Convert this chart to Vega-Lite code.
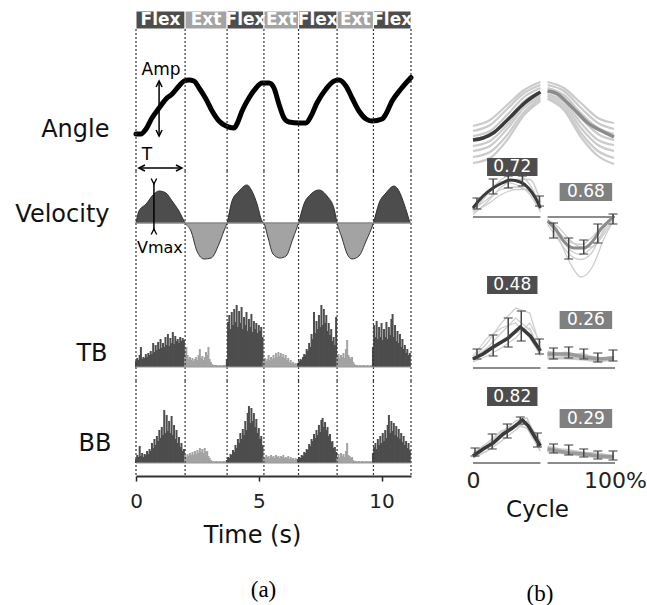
{
"$schema":"https://vega.github.io/schema/vega-lite/v6.json",
"background":"white",
"padding":{"left":14,"top":10,"right":2,"bottom":2},
"config":{"view":{"stroke":null},"font":"DejaVu Sans","axis":{"grid":false},"text":{"font":"DejaVu Sans"}},
"datasets":{
"phases":[{"phase":"Flex","t0":0,"t1":2.0},{"phase":"Ext","t0":2.0,"t1":3.71},{"phase":"Flex","t0":3.71,"t1":5.21},{"phase":"Ext","t0":5.21,"t1":6.62},{"phase":"Flex","t0":6.62,"t1":8.19},{"phase":"Ext","t0":8.19,"t1":9.67},{"phase":"Flex","t0":9.67,"t1":11.2}],
"bounds":[{"t":0},{"t":2.0},{"t":3.71},{"t":5.21},{"t":6.62},{"t":8.19},{"t":9.67},{"t":11.2}],
"angle":[{"t":0,"deg":20},{"t":0.2,"deg":20},{"t":0.41,"deg":30},{"t":0.65,"deg":52},{"t":0.94,"deg":72},{"t":1.22,"deg":90},{"t":1.47,"deg":100},{"t":1.75,"deg":116},{"t":1.96,"deg":126},{"t":2.16,"deg":128},{"t":2.36,"deg":126},{"t":2.57,"deg":112},{"t":2.85,"deg":90},{"t":3.1,"deg":66},{"t":3.38,"deg":46},{"t":3.67,"deg":36},{"t":3.99,"deg":32},{"t":4.11,"deg":40},{"t":4.32,"deg":66},{"t":4.6,"deg":92},{"t":4.89,"deg":112},{"t":5.13,"deg":122},{"t":5.42,"deg":122},{"t":5.62,"deg":112},{"t":5.82,"deg":80},{"t":6.03,"deg":52},{"t":6.23,"deg":44},{"t":6.64,"deg":42},{"t":6.92,"deg":42},{"t":7.13,"deg":56},{"t":7.37,"deg":82},{"t":7.74,"deg":110},{"t":8.07,"deg":126},{"t":8.27,"deg":128},{"t":8.55,"deg":116},{"t":8.8,"deg":92},{"t":9.08,"deg":66},{"t":9.37,"deg":50},{"t":9.61,"deg":46},{"t":10.02,"deg":50},{"t":10.18,"deg":60},{"t":10.43,"deg":86},{"t":10.79,"deg":110},{"t":11.2,"deg":133}],
"vel":[
{"t":0,"v":0,"lobe":1,"ph":"Flex"},{"t":0.12,"v":48,"lobe":1,"ph":"Flex"},{"t":0.41,"v":76,"lobe":1,"ph":"Flex"},{"t":0.73,"v":116,"lobe":1,"ph":"Flex"},{"t":0.94,"v":128,"lobe":1,"ph":"Flex"},{"t":1.22,"v":120,"lobe":1,"ph":"Flex"},{"t":1.47,"v":88,"lobe":1,"ph":"Flex"},{"t":1.75,"v":48,"lobe":1,"ph":"Flex"},{"t":2.0,"v":0,"lobe":1,"ph":"Flex"},
{"t":2.0,"v":0,"lobe":2,"ph":"Ext"},{"t":2.24,"v":-32,"lobe":2,"ph":"Ext"},{"t":2.48,"v":-112,"lobe":2,"ph":"Ext"},{"t":2.77,"v":-144,"lobe":2,"ph":"Ext"},{"t":3.06,"v":-140,"lobe":2,"ph":"Ext"},{"t":3.38,"v":-84,"lobe":2,"ph":"Ext"},{"t":3.58,"v":-32,"lobe":2,"ph":"Ext"},{"t":3.71,"v":0,"lobe":2,"ph":"Ext"},
{"t":3.71,"v":0,"lobe":3,"ph":"Flex"},{"t":3.91,"v":88,"lobe":3,"ph":"Flex"},{"t":4.2,"v":128,"lobe":3,"ph":"Flex"},{"t":4.52,"v":152,"lobe":3,"ph":"Flex"},{"t":4.72,"v":128,"lobe":3,"ph":"Flex"},{"t":4.93,"v":76,"lobe":3,"ph":"Flex"},{"t":5.13,"v":8,"lobe":3,"ph":"Flex"},{"t":5.21,"v":0,"lobe":3,"ph":"Flex"},
{"t":5.21,"v":0,"lobe":4,"ph":"Ext"},{"t":5.38,"v":-60,"lobe":4,"ph":"Ext"},{"t":5.58,"v":-124,"lobe":4,"ph":"Ext"},{"t":5.87,"v":-140,"lobe":4,"ph":"Ext"},{"t":6.11,"v":-132,"lobe":4,"ph":"Ext"},{"t":6.4,"v":-60,"lobe":4,"ph":"Ext"},{"t":6.62,"v":0,"lobe":4,"ph":"Ext"},
{"t":6.62,"v":0,"lobe":5,"ph":"Flex"},{"t":6.84,"v":76,"lobe":5,"ph":"Flex"},{"t":7.13,"v":116,"lobe":5,"ph":"Flex"},{"t":7.45,"v":132,"lobe":5,"ph":"Flex"},{"t":7.78,"v":108,"lobe":5,"ph":"Flex"},{"t":8.07,"v":56,"lobe":5,"ph":"Flex"},{"t":8.19,"v":0,"lobe":5,"ph":"Flex"},
{"t":8.19,"v":0,"lobe":6,"ph":"Ext"},{"t":8.39,"v":-60,"lobe":6,"ph":"Ext"},{"t":8.6,"v":-124,"lobe":6,"ph":"Ext"},{"t":8.8,"v":-144,"lobe":6,"ph":"Ext"},{"t":9.08,"v":-132,"lobe":6,"ph":"Ext"},{"t":9.37,"v":-72,"lobe":6,"ph":"Ext"},{"t":9.67,"v":0,"lobe":6,"ph":"Ext"},
{"t":9.67,"v":0,"lobe":7,"ph":"Flex"},{"t":9.9,"v":80,"lobe":7,"ph":"Flex"},{"t":10.18,"v":120,"lobe":7,"ph":"Flex"},{"t":10.51,"v":148,"lobe":7,"ph":"Flex"},{"t":10.71,"v":128,"lobe":7,"ph":"Flex"},{"t":10.92,"v":76,"lobe":7,"ph":"Flex"},{"t":11.16,"v":0,"lobe":7,"ph":"Flex"}],
"emg":[
{"t":0,"tb":0.06,"bb":0.04,"ph":"Flex"},{"t":0.05,"tb":0.09,"bb":0.08,"ph":"Flex"},{"t":0.1,"tb":0.07,"bb":0.06,"ph":"Flex"},{"t":0.15,"tb":0.12,"bb":0.17,"ph":"Flex"},{"t":0.2,"tb":0.2,"bb":0.07,"ph":"Flex"},{"t":0.25,"tb":0.08,"bb":0.1,"ph":"Flex"},{"t":0.3,"tb":0.1,"bb":0.06,"ph":"Flex"},{"t":0.35,"tb":0.09,"bb":0.09,"ph":"Flex"},{"t":0.4,"tb":0.13,"bb":0.08,"ph":"Flex"},{"t":0.45,"tb":0.1,"bb":0.12,"ph":"Flex"},{"t":0.5,"tb":0.14,"bb":0.09,"ph":"Flex"},{"t":0.55,"tb":0.12,"bb":0.14,"ph":"Flex"},{"t":0.6,"tb":0.16,"bb":0.12,"ph":"Flex"},{"t":0.65,"tb":0.13,"bb":0.2,"ph":"Flex"},{"t":0.7,"tb":0.24,"bb":0.15,"ph":"Flex"},{"t":0.75,"tb":0.15,"bb":0.24,"ph":"Flex"},{"t":0.8,"tb":0.22,"bb":0.18,"ph":"Flex"},{"t":0.85,"tb":0.17,"bb":0.27,"ph":"Flex"},{"t":0.9,"tb":0.25,"bb":0.22,"ph":"Flex"},{"t":0.95,"tb":0.18,"bb":0.33,"ph":"Flex"},{"t":1,"tb":0.28,"bb":0.25,"ph":"Flex"},{"t":1.05,"tb":0.19,"bb":0.36,"ph":"Flex"},{"t":1.1,"tb":0.24,"bb":0.28,"ph":"Flex"},{"t":1.15,"tb":0.2,"bb":0.53,"ph":"Flex"},{"t":1.2,"tb":0.3,"bb":0.3,"ph":"Flex"},{"t":1.25,"tb":0.22,"bb":0.48,"ph":"Flex"},{"t":1.3,"tb":0.33,"bb":0.32,"ph":"Flex"},{"t":1.35,"tb":0.21,"bb":0.42,"ph":"Flex"},{"t":1.4,"tb":0.29,"bb":0.3,"ph":"Flex"},{"t":1.45,"tb":0.24,"bb":0.47,"ph":"Flex"},{"t":1.5,"tb":0.35,"bb":0.28,"ph":"Flex"},{"t":1.55,"tb":0.23,"bb":0.38,"ph":"Flex"},{"t":1.6,"tb":0.31,"bb":0.24,"ph":"Flex"},{"t":1.65,"tb":0.26,"bb":0.33,"ph":"Flex"},{"t":1.7,"tb":0.28,"bb":0.2,"ph":"Flex"},{"t":1.75,"tb":0.24,"bb":0.26,"ph":"Flex"},{"t":1.8,"tb":0.3,"bb":0.16,"ph":"Flex"},{"t":1.85,"tb":0.26,"bb":0.2,"ph":"Flex"},{"t":1.9,"tb":0.29,"bb":0.12,"ph":"Flex"},{"t":1.95,"tb":0.27,"bb":0.14,"ph":"Flex"},
{"t":2,"tb":0.1,"bb":0.08,"ph":"Ext"},{"t":2.05,"tb":0.2,"bb":0.06,"ph":"Ext"},{"t":2.1,"tb":0.12,"bb":0.09,"ph":"Ext"},{"t":2.15,"tb":0.08,"bb":0.07,"ph":"Ext"},{"t":2.2,"tb":0.1,"bb":0.1,"ph":"Ext"},{"t":2.25,"tb":0.07,"bb":0.08,"ph":"Ext"},{"t":2.3,"tb":0.09,"bb":0.11,"ph":"Ext"},{"t":2.35,"tb":0.06,"bb":0.08,"ph":"Ext"},{"t":2.4,"tb":0.08,"bb":0.12,"ph":"Ext"},{"t":2.45,"tb":0.1,"bb":0.09,"ph":"Ext"},{"t":2.5,"tb":0.07,"bb":0.13,"ph":"Ext"},{"t":2.55,"tb":0.12,"bb":0.1,"ph":"Ext"},{"t":2.6,"tb":0.18,"bb":0.15,"ph":"Ext"},{"t":2.65,"tb":0.09,"bb":0.11,"ph":"Ext"},{"t":2.7,"tb":0.11,"bb":0.14,"ph":"Ext"},{"t":2.75,"tb":0.07,"bb":0.1,"ph":"Ext"},{"t":2.8,"tb":0.1,"bb":0.15,"ph":"Ext"},{"t":2.85,"tb":0.15,"bb":0.11,"ph":"Ext"},{"t":2.9,"tb":0.12,"bb":0.12,"ph":"Ext"},{"t":2.95,"tb":0.2,"bb":0.07,"ph":"Ext"},{"t":3,"tb":0.08,"bb":0.05,"ph":"Ext"},{"t":3.05,"tb":0.05,"bb":0.03,"ph":"Ext"},{"t":3.1,"tb":0.03,"bb":0.02,"ph":"Ext"},{"t":3.15,"tb":0.02,"bb":0.02,"ph":"Ext"},{"t":3.2,"tb":0.02,"bb":0.01,"ph":"Ext"},{"t":3.25,"tb":0.02,"bb":0.02,"ph":"Ext"},{"t":3.3,"tb":0.02,"bb":0.02,"ph":"Ext"},{"t":3.35,"tb":0.01,"bb":0.01,"ph":"Ext"},{"t":3.4,"tb":0.02,"bb":0.02,"ph":"Ext"},{"t":3.45,"tb":0.02,"bb":0.02,"ph":"Ext"},{"t":3.5,"tb":0.01,"bb":0.01,"ph":"Ext"},{"t":3.55,"tb":0.02,"bb":0.02,"ph":"Ext"},{"t":3.6,"tb":0.02,"bb":0.02,"ph":"Ext"},{"t":3.65,"tb":0.02,"bb":0.01,"ph":"Ext"},
{"t":3.7,"tb":0.08,"bb":0.03,"ph":"Flex"},{"t":3.75,"tb":0.45,"bb":0.06,"ph":"Flex"},{"t":3.8,"tb":0.52,"bb":0.05,"ph":"Flex"},{"t":3.85,"tb":0.38,"bb":0.09,"ph":"Flex"},{"t":3.9,"tb":0.55,"bb":0.08,"ph":"Flex"},{"t":3.95,"tb":0.42,"bb":0.13,"ph":"Flex"},{"t":4,"tb":0.58,"bb":0.11,"ph":"Flex"},{"t":4.05,"tb":0.45,"bb":0.18,"ph":"Flex"},{"t":4.1,"tb":0.62,"bb":0.15,"ph":"Flex"},{"t":4.15,"tb":0.4,"bb":0.24,"ph":"Flex"},{"t":4.2,"tb":0.56,"bb":0.2,"ph":"Flex"},{"t":4.25,"tb":0.44,"bb":0.3,"ph":"Flex"},{"t":4.3,"tb":0.6,"bb":0.24,"ph":"Flex"},{"t":4.35,"tb":0.38,"bb":0.34,"ph":"Flex"},{"t":4.4,"tb":0.5,"bb":0.28,"ph":"Flex"},{"t":4.45,"tb":0.42,"bb":0.42,"ph":"Flex"},{"t":4.5,"tb":0.55,"bb":0.33,"ph":"Flex"},{"t":4.55,"tb":0.36,"bb":0.5,"ph":"Flex"},{"t":4.6,"tb":0.48,"bb":0.57,"ph":"Flex"},{"t":4.65,"tb":0.4,"bb":0.4,"ph":"Flex"},{"t":4.7,"tb":0.53,"bb":0.55,"ph":"Flex"},{"t":4.75,"tb":0.35,"bb":0.42,"ph":"Flex"},{"t":4.8,"tb":0.46,"bb":0.5,"ph":"Flex"},{"t":4.85,"tb":0.38,"bb":0.36,"ph":"Flex"},{"t":4.9,"tb":0.44,"bb":0.44,"ph":"Flex"},{"t":4.95,"tb":0.34,"bb":0.3,"ph":"Flex"},{"t":5,"tb":0.42,"bb":0.35,"ph":"Flex"},{"t":5.05,"tb":0.36,"bb":0.24,"ph":"Flex"},{"t":5.1,"tb":0.4,"bb":0.27,"ph":"Flex"},{"t":5.15,"tb":0.3,"bb":0.18,"ph":"Flex"},
{"t":5.2,"tb":0.06,"bb":0.06,"ph":"Ext"},{"t":5.25,"tb":0.09,"bb":0.05,"ph":"Ext"},{"t":5.3,"tb":0.06,"bb":0.08,"ph":"Ext"},{"t":5.35,"tb":0.08,"bb":0.06,"ph":"Ext"},{"t":5.4,"tb":0.12,"bb":0.07,"ph":"Ext"},{"t":5.45,"tb":0.07,"bb":0.05,"ph":"Ext"},{"t":5.5,"tb":0.1,"bb":0.08,"ph":"Ext"},{"t":5.55,"tb":0.08,"bb":0.06,"ph":"Ext"},{"t":5.6,"tb":0.12,"bb":0.07,"ph":"Ext"},{"t":5.65,"tb":0.09,"bb":0.05,"ph":"Ext"},{"t":5.7,"tb":0.14,"bb":0.08,"ph":"Ext"},{"t":5.75,"tb":0.1,"bb":0.06,"ph":"Ext"},{"t":5.8,"tb":0.15,"bb":0.07,"ph":"Ext"},{"t":5.85,"tb":0.11,"bb":0.05,"ph":"Ext"},{"t":5.9,"tb":0.14,"bb":0.07,"ph":"Ext"},{"t":5.95,"tb":0.1,"bb":0.06,"ph":"Ext"},{"t":6,"tb":0.13,"bb":0.08,"ph":"Ext"},{"t":6.05,"tb":0.09,"bb":0.05,"ph":"Ext"},{"t":6.1,"tb":0.12,"bb":0.06,"ph":"Ext"},{"t":6.15,"tb":0.07,"bb":0.05,"ph":"Ext"},{"t":6.2,"tb":0.09,"bb":0.07,"ph":"Ext"},{"t":6.25,"tb":0.05,"bb":0.04,"ph":"Ext"},{"t":6.3,"tb":0.07,"bb":0.06,"ph":"Ext"},{"t":6.35,"tb":0.04,"bb":0.04,"ph":"Ext"},{"t":6.4,"tb":0.05,"bb":0.05,"ph":"Ext"},{"t":6.45,"tb":0.03,"bb":0.03,"ph":"Ext"},{"t":6.5,"tb":0.04,"bb":0.05,"ph":"Ext"},{"t":6.55,"tb":0.03,"bb":0.04,"ph":"Ext"},
{"t":6.6,"tb":0.04,"bb":0.04,"ph":"Flex"},{"t":6.65,"tb":0.06,"bb":0.06,"ph":"Flex"},{"t":6.7,"tb":0.08,"bb":0.05,"ph":"Flex"},{"t":6.75,"tb":0.07,"bb":0.08,"ph":"Flex"},{"t":6.8,"tb":0.1,"bb":0.07,"ph":"Flex"},{"t":6.85,"tb":0.13,"bb":0.11,"ph":"Flex"},{"t":6.9,"tb":0.12,"bb":0.1,"ph":"Flex"},{"t":6.95,"tb":0.18,"bb":0.14,"ph":"Flex"},{"t":7,"tb":0.16,"bb":0.13,"ph":"Flex"},{"t":7.05,"tb":0.24,"bb":0.19,"ph":"Flex"},{"t":7.1,"tb":0.2,"bb":0.17,"ph":"Flex"},{"t":7.15,"tb":0.33,"bb":0.24,"ph":"Flex"},{"t":7.2,"tb":0.28,"bb":0.22,"ph":"Flex"},{"t":7.25,"tb":0.55,"bb":0.29,"ph":"Flex"},{"t":7.3,"tb":0.34,"bb":0.25,"ph":"Flex"},{"t":7.35,"tb":0.46,"bb":0.33,"ph":"Flex"},{"t":7.4,"tb":0.38,"bb":0.28,"ph":"Flex"},{"t":7.45,"tb":0.52,"bb":0.38,"ph":"Flex"},{"t":7.5,"tb":0.4,"bb":0.31,"ph":"Flex"},{"t":7.55,"tb":0.62,"bb":0.43,"ph":"Flex"},{"t":7.6,"tb":0.42,"bb":0.45,"ph":"Flex"},{"t":7.65,"tb":0.58,"bb":0.36,"ph":"Flex"},{"t":7.7,"tb":0.44,"bb":0.41,"ph":"Flex"},{"t":7.75,"tb":0.52,"bb":0.33,"ph":"Flex"},{"t":7.8,"tb":0.36,"bb":0.36,"ph":"Flex"},{"t":7.85,"tb":0.44,"bb":0.27,"ph":"Flex"},{"t":7.9,"tb":0.32,"bb":0.29,"ph":"Flex"},{"t":7.95,"tb":0.38,"bb":0.21,"ph":"Flex"},{"t":8,"tb":0.26,"bb":0.22,"ph":"Flex"},{"t":8.05,"tb":0.3,"bb":0.15,"ph":"Flex"},{"t":8.1,"tb":0.22,"bb":0.16,"ph":"Flex"},{"t":8.15,"tb":0.5,"bb":0.11,"ph":"Flex"},
{"t":8.2,"tb":0.1,"bb":0.06,"ph":"Ext"},{"t":8.25,"tb":0.13,"bb":0.09,"ph":"Ext"},{"t":8.3,"tb":0.09,"bb":0.06,"ph":"Ext"},{"t":8.35,"tb":0.12,"bb":0.1,"ph":"Ext"},{"t":8.4,"tb":0.1,"bb":0.07,"ph":"Ext"},{"t":8.45,"tb":0.14,"bb":0.09,"ph":"Ext"},{"t":8.5,"tb":0.09,"bb":0.06,"ph":"Ext"},{"t":8.55,"tb":0.18,"bb":0.12,"ph":"Ext"},{"t":8.6,"tb":0.27,"bb":0.2,"ph":"Ext"},{"t":8.65,"tb":0.12,"bb":0.08,"ph":"Ext"},{"t":8.7,"tb":0.1,"bb":0.07,"ph":"Ext"},{"t":8.75,"tb":0.08,"bb":0.05,"ph":"Ext"},{"t":8.8,"tb":0.1,"bb":0.06,"ph":"Ext"},{"t":8.85,"tb":0.05,"bb":0.03,"ph":"Ext"},{"t":8.9,"tb":0.03,"bb":0.02,"ph":"Ext"},{"t":8.95,"tb":0.02,"bb":0.02,"ph":"Ext"},{"t":9,"tb":0.02,"bb":0.01,"ph":"Ext"},{"t":9.05,"tb":0.01,"bb":0.02,"ph":"Ext"},{"t":9.1,"tb":0.02,"bb":0.02,"ph":"Ext"},{"t":9.15,"tb":0.02,"bb":0.01,"ph":"Ext"},{"t":9.2,"tb":0.01,"bb":0.02,"ph":"Ext"},{"t":9.25,"tb":0.02,"bb":0.02,"ph":"Ext"},{"t":9.3,"tb":0.02,"bb":0.01,"ph":"Ext"},{"t":9.35,"tb":0.01,"bb":0.02,"ph":"Ext"},{"t":9.4,"tb":0.02,"bb":0.02,"ph":"Ext"},{"t":9.45,"tb":0.02,"bb":0.01,"ph":"Ext"},{"t":9.5,"tb":0.01,"bb":0.02,"ph":"Ext"},{"t":9.55,"tb":0.02,"bb":0.02,"ph":"Ext"},{"t":9.6,"tb":0.02,"bb":0.01,"ph":"Ext"},
{"t":9.65,"tb":0.2,"bb":0.1,"ph":"Flex"},{"t":9.7,"tb":0.42,"bb":0.16,"ph":"Flex"},{"t":9.75,"tb":0.3,"bb":0.2,"ph":"Flex"},{"t":9.8,"tb":0.46,"bb":0.14,"ph":"Flex"},{"t":9.85,"tb":0.28,"bb":0.24,"ph":"Flex"},{"t":9.9,"tb":0.4,"bb":0.18,"ph":"Flex"},{"t":9.95,"tb":0.3,"bb":0.27,"ph":"Flex"},{"t":10,"tb":0.44,"bb":0.2,"ph":"Flex"},{"t":10.05,"tb":0.27,"bb":0.3,"ph":"Flex"},{"t":10.1,"tb":0.38,"bb":0.22,"ph":"Flex"},{"t":10.15,"tb":0.3,"bb":0.33,"ph":"Flex"},{"t":10.2,"tb":0.45,"bb":0.25,"ph":"Flex"},{"t":10.25,"tb":0.28,"bb":0.38,"ph":"Flex"},{"t":10.3,"tb":0.4,"bb":0.48,"ph":"Flex"},{"t":10.35,"tb":0.32,"bb":0.3,"ph":"Flex"},{"t":10.4,"tb":0.48,"bb":0.42,"ph":"Flex"},{"t":10.45,"tb":0.53,"bb":0.32,"ph":"Flex"},{"t":10.5,"tb":0.3,"bb":0.4,"ph":"Flex"},{"t":10.55,"tb":0.42,"bb":0.28,"ph":"Flex"},{"t":10.6,"tb":0.26,"bb":0.37,"ph":"Flex"},{"t":10.65,"tb":0.36,"bb":0.26,"ph":"Flex"},{"t":10.7,"tb":0.24,"bb":0.34,"ph":"Flex"},{"t":10.75,"tb":0.33,"bb":0.24,"ph":"Flex"},{"t":10.8,"tb":0.2,"bb":0.3,"ph":"Flex"},{"t":10.85,"tb":0.28,"bb":0.21,"ph":"Flex"},{"t":10.9,"tb":0.18,"bb":0.27,"ph":"Flex"},{"t":10.95,"tb":0.22,"bb":0.18,"ph":"Flex"},{"t":11,"tb":0.14,"bb":0.22,"ph":"Flex"},{"t":11.05,"tb":0.18,"bb":0.15,"ph":"Flex"},{"t":11.1,"tb":0.12,"bb":0.2,"ph":"Flex"},{"t":11.15,"tb":0.14,"bb":0.13,"ph":"Flex"}],
"bcurves":[
{"row":"ang","side":"L","id":"m","x":0,"v":22},{"row":"ang","side":"L","id":"m","x":7.1,"v":26},{"row":"ang","side":"L","id":"m","x":14.2,"v":36},{"row":"ang","side":"L","id":"m","x":21.3,"v":54},{"row":"ang","side":"L","id":"m","x":28.4,"v":74},{"row":"ang","side":"L","id":"m","x":35.5,"v":94},{"row":"ang","side":"L","id":"m","x":41.8,"v":108},{"row":"ang","side":"L","id":"m","x":47.5,"v":118},
{"row":"ang","side":"R","id":"m","x":52.5,"v":120},{"row":"ang","side":"R","id":"m","x":59.6,"v":114},{"row":"ang","side":"R","id":"m","x":66.7,"v":96},{"row":"ang","side":"R","id":"m","x":73.8,"v":76},{"row":"ang","side":"R","id":"m","x":80.9,"v":56},{"row":"ang","side":"R","id":"m","x":87.9,"v":44},{"row":"ang","side":"R","id":"m","x":95,"v":34},{"row":"ang","side":"R","id":"m","x":99.3,"v":28},
{"row":"ang","side":"L","id":"1","x":0,"v":50},{"row":"ang","side":"L","id":"1","x":12,"v":62},{"row":"ang","side":"L","id":"1","x":24,"v":92},{"row":"ang","side":"L","id":"1","x":36,"v":122},{"row":"ang","side":"L","id":"1","x":47.5,"v":138},
{"row":"ang","side":"L","id":"2","x":0,"v":40},{"row":"ang","side":"L","id":"2","x":12,"v":52},{"row":"ang","side":"L","id":"2","x":24,"v":84},{"row":"ang","side":"L","id":"2","x":36,"v":116},{"row":"ang","side":"L","id":"2","x":47.5,"v":132},
{"row":"ang","side":"L","id":"3","x":0,"v":30},{"row":"ang","side":"L","id":"3","x":12,"v":40},{"row":"ang","side":"L","id":"3","x":24,"v":72},{"row":"ang","side":"L","id":"3","x":36,"v":108},{"row":"ang","side":"L","id":"3","x":47.5,"v":126},
{"row":"ang","side":"L","id":"4","x":0,"v":24},{"row":"ang","side":"L","id":"4","x":12,"v":32},{"row":"ang","side":"L","id":"4","x":24,"v":62},{"row":"ang","side":"L","id":"4","x":36,"v":100},{"row":"ang","side":"L","id":"4","x":47.5,"v":118},
{"row":"ang","side":"L","id":"5","x":0,"v":10},{"row":"ang","side":"L","id":"5","x":12,"v":20},{"row":"ang","side":"L","id":"5","x":24,"v":52},{"row":"ang","side":"L","id":"5","x":36,"v":92},{"row":"ang","side":"L","id":"5","x":47.5,"v":112},
{"row":"ang","side":"L","id":"6","x":0,"v":0},{"row":"ang","side":"L","id":"6","x":12,"v":10},{"row":"ang","side":"L","id":"6","x":24,"v":44},{"row":"ang","side":"L","id":"6","x":36,"v":86},{"row":"ang","side":"L","id":"6","x":47.5,"v":108},
{"row":"ang","side":"L","id":"7","x":0,"v":-12},{"row":"ang","side":"L","id":"7","x":12,"v":-2},{"row":"ang","side":"L","id":"7","x":24,"v":32},{"row":"ang","side":"L","id":"7","x":36,"v":78},{"row":"ang","side":"L","id":"7","x":47.5,"v":104},
{"row":"ang","side":"L","id":"8","x":0,"v":-24},{"row":"ang","side":"L","id":"8","x":12,"v":-14},{"row":"ang","side":"L","id":"8","x":24,"v":22},{"row":"ang","side":"L","id":"8","x":36,"v":72},{"row":"ang","side":"L","id":"8","x":47.5,"v":100},
{"row":"ang","side":"R","id":"1","x":52.5,"v":138},{"row":"ang","side":"R","id":"1","x":64,"v":126},{"row":"ang","side":"R","id":"1","x":76,"v":96},{"row":"ang","side":"R","id":"1","x":88,"v":66},{"row":"ang","side":"R","id":"1","x":99.3,"v":56},
{"row":"ang","side":"R","id":"2","x":52.5,"v":132},{"row":"ang","side":"R","id":"2","x":64,"v":120},{"row":"ang","side":"R","id":"2","x":76,"v":86},{"row":"ang","side":"R","id":"2","x":88,"v":56},{"row":"ang","side":"R","id":"2","x":99.3,"v":44},
{"row":"ang","side":"R","id":"3","x":52.5,"v":126},{"row":"ang","side":"R","id":"3","x":64,"v":112},{"row":"ang","side":"R","id":"3","x":76,"v":76},{"row":"ang","side":"R","id":"3","x":88,"v":46},{"row":"ang","side":"R","id":"3","x":99.3,"v":34},
{"row":"ang","side":"R","id":"4","x":52.5,"v":120},{"row":"ang","side":"R","id":"4","x":64,"v":104},{"row":"ang","side":"R","id":"4","x":76,"v":66},{"row":"ang","side":"R","id":"4","x":88,"v":34},{"row":"ang","side":"R","id":"4","x":99.3,"v":22},
{"row":"ang","side":"R","id":"5","x":52.5,"v":114},{"row":"ang","side":"R","id":"5","x":64,"v":98},{"row":"ang","side":"R","id":"5","x":76,"v":56},{"row":"ang","side":"R","id":"5","x":88,"v":22},{"row":"ang","side":"R","id":"5","x":99.3,"v":12},
{"row":"ang","side":"R","id":"6","x":52.5,"v":110},{"row":"ang","side":"R","id":"6","x":64,"v":92},{"row":"ang","side":"R","id":"6","x":76,"v":46},{"row":"ang","side":"R","id":"6","x":88,"v":12},{"row":"ang","side":"R","id":"6","x":99.3,"v":0},
{"row":"ang","side":"R","id":"7","x":52.5,"v":106},{"row":"ang","side":"R","id":"7","x":64,"v":86},{"row":"ang","side":"R","id":"7","x":76,"v":36},{"row":"ang","side":"R","id":"7","x":88,"v":0},{"row":"ang","side":"R","id":"7","x":99.3,"v":-14},
{"row":"ang","side":"R","id":"8","x":52.5,"v":104},{"row":"ang","side":"R","id":"8","x":64,"v":82},{"row":"ang","side":"R","id":"8","x":76,"v":28},{"row":"ang","side":"R","id":"8","x":88,"v":-10},{"row":"ang","side":"R","id":"8","x":99.3,"v":-26},
{"row":"vel","side":"L","id":"m","x":0,"v":36},{"row":"vel","side":"L","id":"m","x":7.1,"v":84},{"row":"vel","side":"L","id":"m","x":14.2,"v":116},{"row":"vel","side":"L","id":"m","x":20.6,"v":136},{"row":"vel","side":"L","id":"m","x":26.2,"v":148},{"row":"vel","side":"L","id":"m","x":33.3,"v":140},{"row":"vel","side":"L","id":"m","x":39,"v":116},{"row":"vel","side":"L","id":"m","x":44,"v":76},{"row":"vel","side":"L","id":"m","x":47.5,"v":36},
{"row":"vel","side":"R","id":"m","x":52.5,"v":-16},{"row":"vel","side":"R","id":"m","x":58.2,"v":-48},{"row":"vel","side":"R","id":"m","x":63.8,"v":-96},{"row":"vel","side":"R","id":"m","x":70.9,"v":-124},{"row":"vel","side":"R","id":"m","x":78,"v":-124},{"row":"vel","side":"R","id":"m","x":84.4,"v":-96},{"row":"vel","side":"R","id":"m","x":90.1,"v":-48},{"row":"vel","side":"R","id":"m","x":95.7,"v":-16},{"row":"vel","side":"R","id":"m","x":99.3,"v":4},
{"row":"vel","side":"L","id":"1","x":0,"v":20},{"row":"vel","side":"L","id":"1","x":10,"v":90},{"row":"vel","side":"L","id":"1","x":20,"v":150},{"row":"vel","side":"L","id":"1","x":30,"v":170},{"row":"vel","side":"L","id":"1","x":40,"v":130},{"row":"vel","side":"L","id":"1","x":47.5,"v":40},
{"row":"vel","side":"L","id":"2","x":0,"v":30},{"row":"vel","side":"L","id":"2","x":10,"v":70},{"row":"vel","side":"L","id":"2","x":20,"v":110},{"row":"vel","side":"L","id":"2","x":30,"v":120},{"row":"vel","side":"L","id":"2","x":40,"v":100},{"row":"vel","side":"L","id":"2","x":47.5,"v":30},
{"row":"vel","side":"L","id":"3","x":0,"v":10},{"row":"vel","side":"L","id":"3","x":10,"v":60},{"row":"vel","side":"L","id":"3","x":20,"v":120},{"row":"vel","side":"L","id":"3","x":30,"v":150},{"row":"vel","side":"L","id":"3","x":40,"v":150},{"row":"vel","side":"L","id":"3","x":47.5,"v":60},
{"row":"vel","side":"L","id":"4","x":0,"v":40},{"row":"vel","side":"L","id":"4","x":10,"v":100},{"row":"vel","side":"L","id":"4","x":20,"v":140},{"row":"vel","side":"L","id":"4","x":30,"v":130},{"row":"vel","side":"L","id":"4","x":40,"v":90},{"row":"vel","side":"L","id":"4","x":47.5,"v":20},
{"row":"vel","side":"L","id":"5","x":0,"v":20},{"row":"vel","side":"L","id":"5","x":10,"v":50},{"row":"vel","side":"L","id":"5","x":20,"v":90},{"row":"vel","side":"L","id":"5","x":30,"v":110},{"row":"vel","side":"L","id":"5","x":40,"v":110},{"row":"vel","side":"L","id":"5","x":47.5,"v":50},
{"row":"vel","side":"R","id":"1","x":52.5,"v":-10},{"row":"vel","side":"R","id":"1","x":60,"v":-80},{"row":"vel","side":"R","id":"1","x":68,"v":-180},{"row":"vel","side":"R","id":"1","x":76,"v":-240},{"row":"vel","side":"R","id":"1","x":84,"v":-200},{"row":"vel","side":"R","id":"1","x":92,"v":-90},{"row":"vel","side":"R","id":"1","x":99.3,"v":-10},
{"row":"vel","side":"R","id":"2","x":52.5,"v":-20},{"row":"vel","side":"R","id":"2","x":60,"v":-70},{"row":"vel","side":"R","id":"2","x":68,"v":-130},{"row":"vel","side":"R","id":"2","x":76,"v":-150},{"row":"vel","side":"R","id":"2","x":84,"v":-120},{"row":"vel","side":"R","id":"2","x":92,"v":-60},{"row":"vel","side":"R","id":"2","x":99.3,"v":0},
{"row":"vel","side":"R","id":"3","x":52.5,"v":-10},{"row":"vel","side":"R","id":"3","x":60,"v":-40},{"row":"vel","side":"R","id":"3","x":68,"v":-90},{"row":"vel","side":"R","id":"3","x":76,"v":-120},{"row":"vel","side":"R","id":"3","x":84,"v":-120},{"row":"vel","side":"R","id":"3","x":92,"v":-70},{"row":"vel","side":"R","id":"3","x":99.3,"v":-10},
{"row":"vel","side":"R","id":"4","x":52.5,"v":-30},{"row":"vel","side":"R","id":"4","x":60,"v":-90},{"row":"vel","side":"R","id":"4","x":68,"v":-150},{"row":"vel","side":"R","id":"4","x":76,"v":-170},{"row":"vel","side":"R","id":"4","x":84,"v":-140},{"row":"vel","side":"R","id":"4","x":92,"v":-50},{"row":"vel","side":"R","id":"4","x":99.3,"v":10},
{"row":"vel","side":"R","id":"5","x":52.5,"v":-20},{"row":"vel","side":"R","id":"5","x":60,"v":-60},{"row":"vel","side":"R","id":"5","x":68,"v":-100},{"row":"vel","side":"R","id":"5","x":76,"v":-110},{"row":"vel","side":"R","id":"5","x":84,"v":-80},{"row":"vel","side":"R","id":"5","x":92,"v":-30},{"row":"vel","side":"R","id":"5","x":99.3,"v":0},
{"row":"tb","side":"L","id":"m","x":0,"v":0.09},{"row":"tb","side":"L","id":"m","x":7,"v":0.14},{"row":"tb","side":"L","id":"m","x":14.2,"v":0.21},{"row":"tb","side":"L","id":"m","x":24.8,"v":0.3},{"row":"tb","side":"L","id":"m","x":33.3,"v":0.41},{"row":"tb","side":"L","id":"m","x":40.4,"v":0.32},{"row":"tb","side":"L","id":"m","x":47.5,"v":0.17},
{"row":"tb","side":"R","id":"m","x":52.5,"v":0.14},{"row":"tb","side":"R","id":"m","x":67.4,"v":0.14},{"row":"tb","side":"R","id":"m","x":78,"v":0.11},{"row":"tb","side":"R","id":"m","x":87.9,"v":0.09},{"row":"tb","side":"R","id":"m","x":99.3,"v":0.1},
{"row":"tb","side":"L","id":"1","x":0,"v":0.1},{"row":"tb","side":"L","id":"1","x":10,"v":0.25},{"row":"tb","side":"L","id":"1","x":20,"v":0.45},{"row":"tb","side":"L","id":"1","x":30,"v":0.6},{"row":"tb","side":"L","id":"1","x":40,"v":0.55},{"row":"tb","side":"L","id":"1","x":47.5,"v":0.2},
{"row":"tb","side":"L","id":"2","x":0,"v":0.08},{"row":"tb","side":"L","id":"2","x":10,"v":0.15},{"row":"tb","side":"L","id":"2","x":20,"v":0.25},{"row":"tb","side":"L","id":"2","x":30,"v":0.35},{"row":"tb","side":"L","id":"2","x":40,"v":0.4},{"row":"tb","side":"L","id":"2","x":47.5,"v":0.15},
{"row":"tb","side":"L","id":"3","x":0,"v":0.12},{"row":"tb","side":"L","id":"3","x":10,"v":0.3},{"row":"tb","side":"L","id":"3","x":20,"v":0.4},{"row":"tb","side":"L","id":"3","x":30,"v":0.45},{"row":"tb","side":"L","id":"3","x":40,"v":0.3},{"row":"tb","side":"L","id":"3","x":47.5,"v":0.12},
{"row":"tb","side":"L","id":"4","x":0,"v":0.06},{"row":"tb","side":"L","id":"4","x":10,"v":0.12},{"row":"tb","side":"L","id":"4","x":20,"v":0.2},{"row":"tb","side":"L","id":"4","x":30,"v":0.3},{"row":"tb","side":"L","id":"4","x":40,"v":0.45},{"row":"tb","side":"L","id":"4","x":47.5,"v":0.25},
{"row":"tb","side":"L","id":"5","x":0,"v":0.1},{"row":"tb","side":"L","id":"5","x":10,"v":0.2},{"row":"tb","side":"L","id":"5","x":20,"v":0.35},{"row":"tb","side":"L","id":"5","x":30,"v":0.5},{"row":"tb","side":"L","id":"5","x":40,"v":0.38},{"row":"tb","side":"L","id":"5","x":47.5,"v":0.18},
{"row":"tb","side":"R","id":"1","x":52.5,"v":0.12},{"row":"tb","side":"R","id":"1","x":65,"v":0.15},{"row":"tb","side":"R","id":"1","x":77,"v":0.12},{"row":"tb","side":"R","id":"1","x":88,"v":0.1},{"row":"tb","side":"R","id":"1","x":99.3,"v":0.08},
{"row":"tb","side":"R","id":"2","x":52.5,"v":0.16},{"row":"tb","side":"R","id":"2","x":65,"v":0.12},{"row":"tb","side":"R","id":"2","x":77,"v":0.14},{"row":"tb","side":"R","id":"2","x":88,"v":0.08},{"row":"tb","side":"R","id":"2","x":99.3,"v":0.11},
{"row":"tb","side":"R","id":"3","x":52.5,"v":0.1},{"row":"tb","side":"R","id":"3","x":65,"v":0.1},{"row":"tb","side":"R","id":"3","x":77,"v":0.09},{"row":"tb","side":"R","id":"3","x":88,"v":0.07},{"row":"tb","side":"R","id":"3","x":99.3,"v":0.09},
{"row":"bb","side":"L","id":"m","x":0,"v":0.07},{"row":"bb","side":"L","id":"m","x":7.1,"v":0.14},{"row":"bb","side":"L","id":"m","x":14.2,"v":0.2},{"row":"bb","side":"L","id":"m","x":21.3,"v":0.29},{"row":"bb","side":"L","id":"m","x":27.7,"v":0.35},{"row":"bb","side":"L","id":"m","x":34.8,"v":0.43},{"row":"bb","side":"L","id":"m","x":39,"v":0.37},{"row":"bb","side":"L","id":"m","x":44,"v":0.25},{"row":"bb","side":"L","id":"m","x":47.5,"v":0.17},
{"row":"bb","side":"R","id":"m","x":52.5,"v":0.14},{"row":"bb","side":"R","id":"m","x":67.4,"v":0.1},{"row":"bb","side":"R","id":"m","x":78,"v":0.09},{"row":"bb","side":"R","id":"m","x":87.9,"v":0.07},{"row":"bb","side":"R","id":"m","x":99.3,"v":0.06},
{"row":"bb","side":"L","id":"1","x":0,"v":0.08},{"row":"bb","side":"L","id":"1","x":10,"v":0.18},{"row":"bb","side":"L","id":"1","x":20,"v":0.3},{"row":"bb","side":"L","id":"1","x":30,"v":0.42},{"row":"bb","side":"L","id":"1","x":38,"v":0.45},{"row":"bb","side":"L","id":"1","x":47.5,"v":0.15},
{"row":"bb","side":"L","id":"2","x":0,"v":0.06},{"row":"bb","side":"L","id":"2","x":10,"v":0.15},{"row":"bb","side":"L","id":"2","x":20,"v":0.26},{"row":"bb","side":"L","id":"2","x":30,"v":0.36},{"row":"bb","side":"L","id":"2","x":38,"v":0.4},{"row":"bb","side":"L","id":"2","x":47.5,"v":0.2},
{"row":"bb","side":"L","id":"3","x":0,"v":0.1},{"row":"bb","side":"L","id":"3","x":10,"v":0.2},{"row":"bb","side":"L","id":"3","x":20,"v":0.32},{"row":"bb","side":"L","id":"3","x":30,"v":0.38},{"row":"bb","side":"L","id":"3","x":38,"v":0.35},{"row":"bb","side":"L","id":"3","x":47.5,"v":0.12},
{"row":"bb","side":"L","id":"4","x":0,"v":0.05},{"row":"bb","side":"L","id":"4","x":10,"v":0.12},{"row":"bb","side":"L","id":"4","x":20,"v":0.22},{"row":"bb","side":"L","id":"4","x":30,"v":0.33},{"row":"bb","side":"L","id":"4","x":38,"v":0.42},{"row":"bb","side":"L","id":"4","x":47.5,"v":0.22},
{"row":"bb","side":"R","id":"1","x":52.5,"v":0.16},{"row":"bb","side":"R","id":"1","x":65,"v":0.12},{"row":"bb","side":"R","id":"1","x":77,"v":0.1},{"row":"bb","side":"R","id":"1","x":88,"v":0.08},{"row":"bb","side":"R","id":"1","x":99.3,"v":0.07},
{"row":"bb","side":"R","id":"2","x":52.5,"v":0.12},{"row":"bb","side":"R","id":"2","x":65,"v":0.1},{"row":"bb","side":"R","id":"2","x":77,"v":0.08},{"row":"bb","side":"R","id":"2","x":88,"v":0.06},{"row":"bb","side":"R","id":"2","x":99.3,"v":0.05},
{"row":"bb","side":"R","id":"3","x":52.5,"v":0.13},{"row":"bb","side":"R","id":"3","x":65,"v":0.13},{"row":"bb","side":"R","id":"3","x":77,"v":0.1},{"row":"bb","side":"R","id":"3","x":88,"v":0.09},{"row":"bb","side":"R","id":"3","x":99.3,"v":0.06}],
"berr":[
{"row":"vel","side":"L","x":2.8,"lo":32,"hi":76},{"row":"vel","side":"L","x":14.2,"lo":92,"hi":152},{"row":"vel","side":"L","x":24.8,"lo":116,"hi":164},{"row":"vel","side":"L","x":34.8,"lo":124,"hi":164},{"row":"vel","side":"L","x":46.8,"lo":44,"hi":84},
{"row":"vel","side":"R","x":56.7,"lo":-84,"hi":-24},{"row":"vel","side":"R","x":67.4,"lo":-168,"hi":-84},{"row":"vel","side":"R","x":78,"lo":-148,"hi":-92},{"row":"vel","side":"R","x":87.9,"lo":-104,"hi":-28},{"row":"vel","side":"R","x":98.6,"lo":-28,"hi":12},
{"row":"tb","side":"L","x":2.8,"lo":0.09,"hi":0.19},{"row":"tb","side":"L","x":14.2,"lo":0.12,"hi":0.33},{"row":"tb","side":"L","x":24.8,"lo":0.21,"hi":0.5},{"row":"tb","side":"L","x":34,"lo":0.27,"hi":0.57},{"row":"tb","side":"L","x":46.8,"lo":0.14,"hi":0.29},
{"row":"tb","side":"R","x":56.7,"lo":0.09,"hi":0.2},{"row":"tb","side":"R","x":67.4,"lo":0.1,"hi":0.21},{"row":"tb","side":"R","x":78,"lo":0.09,"hi":0.19},{"row":"tb","side":"R","x":87.9,"lo":0.06,"hi":0.15},{"row":"tb","side":"R","x":98.6,"lo":0.07,"hi":0.18},
{"row":"bb","side":"L","x":1.4,"lo":0.07,"hi":0.15},{"row":"bb","side":"L","x":13.5,"lo":0.14,"hi":0.29},{"row":"bb","side":"L","x":24.1,"lo":0.25,"hi":0.39},{"row":"bb","side":"L","x":33.3,"lo":0.39,"hi":0.46},{"row":"bb","side":"L","x":45.4,"lo":0.16,"hi":0.3},
{"row":"bb","side":"R","x":56.7,"lo":0.1,"hi":0.19},{"row":"bb","side":"R","x":67.4,"lo":0.08,"hi":0.18},{"row":"bb","side":"R","x":78,"lo":0.06,"hi":0.14},{"row":"bb","side":"R","x":87.9,"lo":0.04,"hi":0.12},{"row":"bb","side":"R","x":98.6,"lo":0.03,"hi":0.12}],
"boxes":[{"row":"vel","side":"L","r":0.72},{"row":"vel","side":"R","r":0.68},{"row":"tb","side":"L","r":0.48},{"row":"tb","side":"R","r":0.26},{"row":"bb","side":"L","r":0.82},{"row":"bb","side":"R","r":0.29}],
"halves":[{"side":"L","a":0,"b":47.5},{"side":"R","a":52.5,"b":100}]
},
"spacing":52,
"hconcat":[
{"spacing":0,"bounds":"flush","vconcat":[
 {"width":275,"height":18,"data":{"name":"phases"},"layer":[
  {"mark":{"type":"rect","stroke":"white","strokeWidth":1},"encoding":{"x":{"field":"t0","type":"quantitative","scale":{"domain":[0,11.2],"nice":false,"zero":false},"axis":null},"x2":{"field":"t1"},"color":{"field":"phase","type":"nominal","scale":{"domain":["Flex","Ext"],"range":["#4d4d4d","#a3a3a3"]},"legend":null}}},
  {"transform":[{"calculate":"(datum.t0+datum.t1)/2","as":"tm"}],"mark":{"type":"text","color":"white","fontSize":17,"fontWeight":"bold"},"encoding":{"x":{"field":"tm","type":"quantitative","axis":null},"text":{"field":"phase"}}}
 ]},
 {"width":275,"height":142,"layer":[
  {"data":{"name":"angle"},"mark":{"type":"line","color":"black","strokeWidth":5,"interpolate":"monotone","strokeCap":"round","strokeJoin":"round"},"encoding":{"x":{"field":"t","type":"quantitative","scale":{"domain":[0,11.2],"nice":false,"zero":false},"axis":null},"y":{"field":"deg","type":"quantitative","scale":{"domain":[-54,230],"nice":false,"zero":false},"axis":{"title":"Angle","titleAngle":0,"titleAlign":"right","titleBaseline":"middle","titleX":-27,"titleY":100,"titleFontSize":24,"titleFontWeight":"normal","titleColor":"#111","domain":false,"ticks":false,"labels":false,"grid":false}}}},
  {"data":{"name":"bounds"},"mark":{"type":"rule","strokeDash":[2,2],"color":"#333","strokeWidth":1.2},"encoding":{"x":{"field":"t","type":"quantitative","axis":null}}},
  {"data":{"values":[{}]},"mark":{"type":"rule","color":"black","strokeWidth":1.5},"encoding":{"x":{"datum":0.94,"axis":null},"y":{"datum":16},"y2":{"datum":126}}},
  {"data":{"values":[{}]},"mark":{"type":"point","shape":"M-1,2L0,0L1,2","filled":false,"color":"black","strokeWidth":1.5,"size":36,"opacity":1},"encoding":{"x":{"datum":0.94,"axis":null},"y":{"datum":126}}},
  {"data":{"values":[{}]},"mark":{"type":"point","shape":"M-1,-2L0,0L1,-2","filled":false,"color":"black","strokeWidth":1.5,"size":36,"opacity":1},"encoding":{"x":{"datum":0.94,"axis":null},"y":{"datum":16}}},
  {"data":{"values":[{}]},"mark":{"type":"text","text":"Amp","fontSize":17,"color":"black"},"encoding":{"x":{"datum":1.02,"axis":null},"y":{"datum":148}}},
  {"data":{"values":[{}]},"mark":{"type":"rule","color":"black","strokeWidth":1.5},"encoding":{"x":{"datum":0.12,"axis":null},"x2":{"datum":1.87},"y":{"datum":-48}}},
  {"data":{"values":[{}]},"mark":{"type":"point","shape":"M2,-1L0,0L2,1","filled":false,"color":"black","strokeWidth":1.5,"size":36,"opacity":1},"encoding":{"x":{"datum":0.12,"axis":null},"y":{"datum":-48}}},
  {"data":{"values":[{}]},"mark":{"type":"point","shape":"M-2,-1L0,0L-2,1","filled":false,"color":"black","strokeWidth":1.5,"size":36,"opacity":1},"encoding":{"x":{"datum":1.87,"axis":null},"y":{"datum":-48}}},
  {"data":{"values":[{}]},"mark":{"type":"text","text":"T","fontSize":17,"color":"black"},"encoding":{"x":{"datum":0.45,"axis":null},"y":{"datum":-22}}}
 ]},
 {"width":275,"height":120,"layer":[
  {"data":{"name":"vel"},"mark":{"type":"area","interpolate":"monotone"},"encoding":{"x":{"field":"t","type":"quantitative","scale":{"domain":[0,11.2],"nice":false,"zero":false},"axis":null},"y":{"field":"v","type":"quantitative","scale":{"domain":[-272,208],"nice":false,"zero":false},"axis":{"title":"Velocity","titleAngle":0,"titleAlign":"right","titleBaseline":"middle","titleX":-27,"titleY":43,"titleFontSize":24,"titleFontWeight":"normal","titleColor":"#111","domain":false,"ticks":false,"labels":false,"grid":false}},"y2":{"datum":0},"color":{"field":"ph","type":"nominal","scale":{"domain":["Flex","Ext"],"range":["#4d4d4d","#a3a3a3"]},"legend":null},"detail":{"field":"lobe","type":"nominal"}}},
  {"data":{"name":"bounds"},"mark":{"type":"rule","strokeDash":[2,2],"color":"#333","strokeWidth":1.2},"encoding":{"x":{"field":"t","type":"quantitative","axis":null}}},
  {"data":{"name":"vel"},"mark":{"type":"line","interpolate":"monotone","color":"#333","strokeWidth":1},"encoding":{"x":{"field":"t","type":"quantitative","axis":null},"y":{"field":"v","type":"quantitative"}}},
  {"data":{"values":[{}]},"mark":{"type":"rule","color":"#888","strokeWidth":1.3},"encoding":{"y":{"datum":0}}},
  {"data":{"values":[{}]},"mark":{"type":"rule","color":"black","strokeWidth":1.5},"encoding":{"x":{"datum":0.73,"axis":null},"y":{"datum":164},"y2":{"datum":-32}}},
  {"data":{"values":[{}]},"mark":{"type":"point","shape":"M-1,-2L0,0L1,-2","filled":false,"color":"black","strokeWidth":1.3,"size":30,"opacity":1},"encoding":{"x":{"datum":0.73,"axis":null},"y":{"datum":156}}},
  {"data":{"values":[{}]},"mark":{"type":"point","shape":"M-1,2L0,0L1,2","filled":false,"color":"black","strokeWidth":1.3,"size":30,"opacity":1},"encoding":{"x":{"datum":0.73,"axis":null},"y":{"datum":-24}}},
  {"data":{"values":[{}]},"mark":{"type":"text","text":"Vmax","fontSize":16,"align":"left","color":"black"},"encoding":{"x":{"datum":0.04,"axis":null},"y":{"datum":-100}}}
 ]},
 {"width":275,"height":90,"layer":[
  {"data":{"name":"emg"},"mark":{"type":"rule","strokeWidth":2},"encoding":{"x":{"field":"t","type":"quantitative","scale":{"domain":[0,11.2],"nice":false,"zero":false},"axis":null},"y":{"field":"tb","type":"quantitative","scale":{"domain":[-0.14,0.76],"nice":false,"zero":false},"axis":{"title":"TB","titleAngle":0,"titleAlign":"right","titleBaseline":"middle","titleX":-29,"titleY":62,"titleFontSize":24,"titleFontWeight":"normal","titleColor":"#111","domain":false,"ticks":false,"labels":false,"grid":false}},"y2":{"datum":0},"color":{"field":"ph","type":"nominal","scale":{"domain":["Flex","Ext"],"range":["#4d4d4d","#a3a3a3"]},"legend":null}}},
  {"data":{"name":"bounds"},"mark":{"type":"rule","strokeDash":[2,2],"color":"#333","strokeWidth":1.2},"encoding":{"x":{"field":"t","type":"quantitative","axis":null}}},
  {"data":{"values":[{}]},"mark":{"type":"rule","color":"#999","strokeWidth":1},"encoding":{"y":{"datum":0}}}
 ]},
 {"width":275,"height":95,
  "title":{"text":"(a)","orient":"bottom","anchor":"middle","font":"Liberation Serif","fontSize":23,"fontWeight":"normal","color":"black","offset":32,"dx":-10},
  "layer":[
  {"data":{"name":"emg"},"mark":{"type":"rule","strokeWidth":2},"encoding":{"x":{"field":"t","type":"quantitative","scale":{"domain":[0,11.2],"nice":false,"zero":false},"axis":{"values":[0,5,10],"format":"d","title":"Time (s)","titleX":116,"grid":false,"domainColor":"#333","domainWidth":2,"tickColor":"#222","tickWidth":1.5,"tickSize":5,"labelFontSize":20,"labelColor":"#222","labelPadding":10,"labelFlush":false,"labelOverlap":false,"titleFontSize":24,"titleFontWeight":"normal","titleColor":"#111","titlePadding":12}},"y":{"field":"bb","type":"quantitative","scale":{"domain":[-0.13,0.82],"nice":false,"zero":false},"axis":{"title":"BB","titleAngle":0,"titleAlign":"right","titleBaseline":"middle","titleX":-25,"titleY":62,"titleFontSize":24,"titleFontWeight":"normal","titleColor":"#111","domain":false,"ticks":false,"labels":false,"grid":false}},"y2":{"datum":0},"color":{"field":"ph","type":"nominal","scale":{"domain":["Flex","Ext"],"range":["#4d4d4d","#a3a3a3"]},"legend":null}}},
  {"data":{"name":"bounds"},"mark":{"type":"rule","strokeDash":[2,2],"color":"#333","strokeWidth":1.2},"encoding":{"x":{"field":"t","type":"quantitative"}}},
  {"data":{"values":[{}]},"mark":{"type":"rule","color":"#999","strokeWidth":1},"encoding":{"y":{"datum":0}}}
 ]}
]},
{"spacing":0,"bounds":"flush","vconcat":[
 {"width":142,"height":155,"layer":[
  {"data":{"name":"bcurves"},"transform":[{"filter":"datum.row=='ang' && datum.id!='m'"}],"mark":{"type":"line","color":"#cbcbcb","strokeWidth":2.2,"interpolate":"monotone"},"encoding":{"x":{"field":"x","type":"quantitative","scale":{"domain":[0,100],"nice":false,"zero":false},"axis":null},"y":{"field":"v","type":"quantitative","scale":{"domain":[-30,280],"nice":false,"zero":false},"axis":null},"detail":[{"field":"side","type":"nominal"},{"field":"id","type":"nominal"}]}},
  {"data":{"name":"bcurves"},"transform":[{"filter":"datum.row=='ang' && datum.id=='m' && datum.side=='L'"}],"mark":{"type":"line","color":"#3a3a3a","strokeWidth":3.5,"interpolate":"monotone"},"encoding":{"x":{"field":"x","type":"quantitative","axis":null},"y":{"field":"v","type":"quantitative","axis":null}}},
  {"data":{"name":"bcurves"},"transform":[{"filter":"datum.row=='ang' && datum.id=='m' && datum.side=='R'"}],"mark":{"type":"line","color":"#8c8c8c","strokeWidth":3.5,"interpolate":"monotone"},"encoding":{"x":{"field":"x","type":"quantitative","axis":null},"y":{"field":"v","type":"quantitative","axis":null}}}
 ]},
 {"width":142,"height":115,"layer":[
  {"data":{"name":"halves"},"mark":{"type":"rule","color":"#666","strokeWidth":1.5},"encoding":{"x":{"field":"a","type":"quantitative","scale":{"domain":[0,100],"nice":false,"zero":false},"axis":null},"x2":{"field":"b"},"y":{"datum":0,"axis":null}}},
  {"data":{"name":"bcurves"},"transform":[{"filter":"datum.row=='vel' && datum.id!='m'"}],"mark":{"type":"line","color":"#cdcdcd","strokeWidth":1.3,"interpolate":"monotone"},"encoding":{"x":{"field":"x","type":"quantitative","axis":null},"y":{"field":"v","type":"quantitative","scale":{"domain":[-256,204],"nice":false,"zero":false},"axis":null},"detail":[{"field":"side","type":"nominal"},{"field":"id","type":"nominal"}]}},
  {"data":{"name":"bcurves"},"transform":[{"filter":"datum.row=='vel' && datum.id=='m' && datum.side=='L'"}],"mark":{"type":"line","color":"#3a3a3a","strokeWidth":3,"interpolate":"monotone"},"encoding":{"x":{"field":"x","type":"quantitative","axis":null},"y":{"field":"v","type":"quantitative","axis":null}}},
  {"data":{"name":"bcurves"},"transform":[{"filter":"datum.row=='vel' && datum.id=='m' && datum.side=='R'"}],"mark":{"type":"line","color":"#8c8c8c","strokeWidth":3,"interpolate":"monotone"},"encoding":{"x":{"field":"x","type":"quantitative","axis":null},"y":{"field":"v","type":"quantitative","axis":null}}},
  {"data":{"name":"berr"},"transform":[{"filter":"datum.row=='vel'"}],"mark":{"type":"errorbar","ticks":true,"size":9,"thickness":1.5,"color":"#444"},"encoding":{"x":{"field":"x","type":"quantitative","axis":null},"y":{"field":"lo","type":"quantitative","axis":null},"y2":{"field":"hi"}}},
  {"data":{"name":"boxes"},"transform":[{"filter":"datum.row=='vel' && datum.side=='L'"}],"mark":{"type":"rect","color":"#4d4d4d"},"encoding":{"x":{"datum":9.9,"axis":null},"x2":{"datum":45.4},"y":{"datum":236,"axis":null},"y2":{"datum":164}}},
  {"data":{"name":"boxes"},"transform":[{"filter":"datum.row=='vel' && datum.side=='L'"}],"mark":{"type":"text","color":"white","fontSize":17},"encoding":{"x":{"datum":27.65,"axis":null},"y":{"datum":200,"axis":null},"text":{"field":"r","type":"quantitative","format":".2f"}}},
  {"data":{"name":"boxes"},"transform":[{"filter":"datum.row=='vel' && datum.side=='R'"}],"mark":{"type":"rect","color":"#808080"},"encoding":{"x":{"datum":61,"axis":null},"x2":{"datum":98},"y":{"datum":136,"axis":null},"y2":{"datum":64}}},
  {"data":{"name":"boxes"},"transform":[{"filter":"datum.row=='vel' && datum.side=='R'"}],"mark":{"type":"text","color":"white","fontSize":17},"encoding":{"x":{"datum":79.5,"axis":null},"y":{"datum":100,"axis":null},"text":{"field":"r","type":"quantitative","format":".2f"}}}
 ]},
 {"width":142,"height":100,"layer":[
  {"data":{"name":"halves"},"mark":{"type":"rule","color":"#666","strokeWidth":1.5},"encoding":{"x":{"field":"a","type":"quantitative","scale":{"domain":[0,100],"nice":false,"zero":false},"axis":null},"x2":{"field":"b"},"y":{"datum":0,"axis":null}}},
  {"data":{"name":"bcurves"},"transform":[{"filter":"datum.row=='tb' && datum.id!='m' && datum.side=='L'"}],"mark":{"type":"line","color":"#cdcdcd","strokeWidth":1.2},"encoding":{"x":{"field":"x","type":"quantitative","axis":null},"y":{"field":"v","type":"quantitative","scale":{"domain":[-0.13,0.87],"nice":false,"zero":false},"axis":null},"detail":{"field":"id","type":"nominal"}}},
  {"data":{"name":"bcurves"},"transform":[{"filter":"datum.row=='tb' && datum.id!='m' && datum.side=='R'"}],"mark":{"type":"line","color":"#c8c8c8","strokeWidth":3},"encoding":{"x":{"field":"x","type":"quantitative","axis":null},"y":{"field":"v","type":"quantitative","axis":null},"detail":{"field":"id","type":"nominal"}}},
  {"data":{"name":"bcurves"},"transform":[{"filter":"datum.row=='tb' && datum.id=='m' && datum.side=='L'"}],"mark":{"type":"line","color":"#3a3a3a","strokeWidth":3.5},"encoding":{"x":{"field":"x","type":"quantitative","axis":null},"y":{"field":"v","type":"quantitative","axis":null}}},
  {"data":{"name":"bcurves"},"transform":[{"filter":"datum.row=='tb' && datum.id=='m' && datum.side=='R'"}],"mark":{"type":"line","color":"#9a9a9a","strokeWidth":3.5},"encoding":{"x":{"field":"x","type":"quantitative","axis":null},"y":{"field":"v","type":"quantitative","axis":null}}},
  {"data":{"name":"berr"},"transform":[{"filter":"datum.row=='tb'"}],"mark":{"type":"errorbar","ticks":true,"size":9,"thickness":1.5,"color":"#444"},"encoding":{"x":{"field":"x","type":"quantitative","axis":null},"y":{"field":"lo","type":"quantitative","axis":null},"y2":{"field":"hi"}}},
  {"data":{"name":"boxes"},"transform":[{"filter":"datum.row=='tb' && datum.side=='L'"}],"mark":{"type":"rect","color":"#4d4d4d"},"encoding":{"x":{"datum":9.9,"axis":null},"x2":{"datum":45.4},"y":{"datum":0.92,"axis":null},"y2":{"datum":0.74}}},
  {"data":{"name":"boxes"},"transform":[{"filter":"datum.row=='tb' && datum.side=='L'"}],"mark":{"type":"text","color":"white","fontSize":17},"encoding":{"x":{"datum":27.65,"axis":null},"y":{"datum":0.83,"axis":null},"text":{"field":"r","type":"quantitative","format":".2f"}}},
  {"data":{"name":"boxes"},"transform":[{"filter":"datum.row=='tb' && datum.side=='R'"}],"mark":{"type":"rect","color":"#808080"},"encoding":{"x":{"datum":61,"axis":null},"x2":{"datum":98},"y":{"datum":0.57,"axis":null},"y2":{"datum":0.39}}},
  {"data":{"name":"boxes"},"transform":[{"filter":"datum.row=='tb' && datum.side=='R'"}],"mark":{"type":"text","color":"white","fontSize":17},"encoding":{"x":{"datum":79.5,"axis":null},"y":{"datum":0.48,"axis":null},"text":{"field":"r","type":"quantitative","format":".2f"}}}
 ]},
 {"width":142,"height":82,
  "title":{"text":"(b)","orient":"bottom","anchor":"middle","font":"Liberation Serif","fontSize":23,"fontWeight":"normal","color":"black","offset":62,"dx":-4},
  "layer":[
  {"data":{"name":"bcurves"},"transform":[{"filter":"datum.row=='bb' && datum.id!='m' && datum.side=='L'"}],"mark":{"type":"line","color":"#cdcdcd","strokeWidth":1.5},"encoding":{"x":{"field":"x","type":"quantitative","scale":{"domain":[0,100],"nice":false,"zero":false},"axis":{"values":[0,100],"labelExpr":"datum.value == 100 ? '100%' : '0'","title":"Cycle","titleX":64,"domain":false,"ticks":false,"grid":false,"labelFontSize":22,"labelColor":"#222","labelPadding":7,"labelFlush":false,"labelOverlap":false,"titleFontSize":23,"titleFontWeight":"normal","titleColor":"#111","titlePadding":7}},"y":{"field":"v","type":"quantitative","scale":{"domain":[0,0.82],"nice":false,"zero":false},"axis":null},"detail":{"field":"id","type":"nominal"}}},
  {"data":{"name":"halves"},"mark":{"type":"rule","color":"#666","strokeWidth":1.5},"encoding":{"x":{"field":"a","type":"quantitative"},"x2":{"field":"b"},"y":{"datum":0,"axis":null}}},
  {"data":{"name":"bcurves"},"transform":[{"filter":"datum.row=='bb' && datum.id!='m' && datum.side=='R'"}],"mark":{"type":"line","color":"#c8c8c8","strokeWidth":3},"encoding":{"x":{"field":"x","type":"quantitative"},"y":{"field":"v","type":"quantitative","axis":null},"detail":{"field":"id","type":"nominal"}}},
  {"data":{"name":"bcurves"},"transform":[{"filter":"datum.row=='bb' && datum.id=='m' && datum.side=='L'"}],"mark":{"type":"line","color":"#3a3a3a","strokeWidth":3.5},"encoding":{"x":{"field":"x","type":"quantitative"},"y":{"field":"v","type":"quantitative","axis":null}}},
  {"data":{"name":"bcurves"},"transform":[{"filter":"datum.row=='bb' && datum.id=='m' && datum.side=='R'"}],"mark":{"type":"line","color":"#9a9a9a","strokeWidth":3.5},"encoding":{"x":{"field":"x","type":"quantitative"},"y":{"field":"v","type":"quantitative","axis":null}}},
  {"data":{"name":"berr"},"transform":[{"filter":"datum.row=='bb'"}],"mark":{"type":"errorbar","ticks":true,"size":9,"thickness":1.5,"color":"#444"},"encoding":{"x":{"field":"x","type":"quantitative"},"y":{"field":"lo","type":"quantitative","axis":null},"y2":{"field":"hi"}}},
  {"data":{"name":"boxes"},"transform":[{"filter":"datum.row=='bb' && datum.side=='L'"}],"mark":{"type":"rect","color":"#4d4d4d"},"encoding":{"x":{"datum":9.9},"x2":{"datum":45.4},"y":{"datum":0.76,"axis":null},"y2":{"datum":0.57}}},
  {"data":{"name":"boxes"},"transform":[{"filter":"datum.row=='bb' && datum.side=='L'"}],"mark":{"type":"text","color":"white","fontSize":17},"encoding":{"x":{"datum":27.65},"y":{"datum":0.665,"axis":null},"text":{"field":"r","type":"quantitative","format":".2f"}}},
  {"data":{"name":"boxes"},"transform":[{"filter":"datum.row=='bb' && datum.side=='R'"}],"mark":{"type":"rect","color":"#808080"},"encoding":{"x":{"datum":61},"x2":{"datum":98},"y":{"datum":0.54,"axis":null},"y2":{"datum":0.35}}},
  {"data":{"name":"boxes"},"transform":[{"filter":"datum.row=='bb' && datum.side=='R'"}],"mark":{"type":"text","color":"white","fontSize":17},"encoding":{"x":{"datum":79.5},"y":{"datum":0.445,"axis":null},"text":{"field":"r","type":"quantitative","format":".2f"}}}
 ]}
]}
]
}
